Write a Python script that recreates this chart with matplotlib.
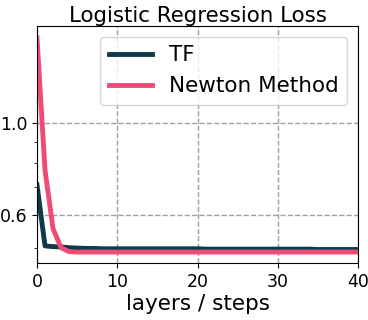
import matplotlib
matplotlib.use("Agg")
import matplotlib.pyplot as plt
from matplotlib.ticker import FixedLocator, NullFormatter, FixedFormatter

steps = list(range(0, 41))
tf_loss = [0.71, 0.505, 0.503, 0.502, 0.500, 0.499, 0.498, 0.498, 0.497, 0.497,
           0.497, 0.497, 0.497, 0.497, 0.497, 0.497, 0.497, 0.497, 0.497, 0.497,
           0.497, 0.496, 0.496, 0.496, 0.496, 0.496, 0.496, 0.496, 0.496, 0.496,
           0.496, 0.496, 0.496, 0.496, 0.496, 0.495, 0.495, 0.495, 0.495, 0.495, 0.495]
newton_loss = [1.61, 0.77, 0.556, 0.50, 0.489, 0.488] + [0.488] * 35

y_major = [0.6, 1.0]
y_major_labels = ["0.6", "1.0"]
y_minor = [0.5, 0.7, 0.8, 0.9]
x_ticks = [0, 10, 20, 30, 40]

fig = plt.figure(figsize=(3.68, 3.2), dpi=100)
ax = fig.add_axes([0.1005, 0.178, 0.8725, 0.741])

ax.plot(steps, tf_loss, color="#0f3a4a", lw=3.5, label="TF")
ax.plot(steps, newton_loss, color="#ef4b77", lw=3.5, label="Newton Method")

ax.set_yscale("log")
ax.set_xlim(0, 40)
ax.set_ylim(0.459, 1.72)
ax.yaxis.set_major_locator(FixedLocator(y_major))
ax.yaxis.set_major_formatter(FixedFormatter(y_major_labels))
ax.yaxis.set_minor_locator(FixedLocator(y_minor))
ax.yaxis.set_minor_formatter(NullFormatter())
ax.set_xticks(x_ticks)
ax.tick_params(labelsize=12.5)
ax.grid(True, which="major", linestyle="--", color="gray", alpha=0.75, lw=1)

ax.set_title("Logistic Regression Loss", fontsize=15.4, pad=3)
ax.set_xlabel("layers / steps", fontsize=15.5, labelpad=2)
ax.legend(loc="upper right", fontsize=15.5)

fig.savefig("out.png", dpi=100)
